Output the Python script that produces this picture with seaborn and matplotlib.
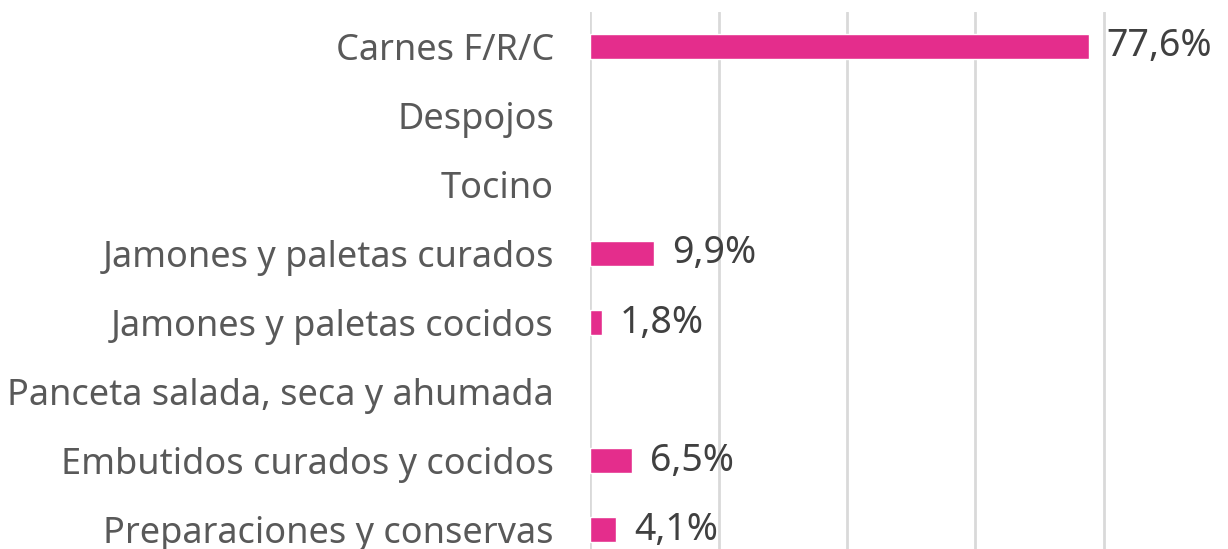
import numpy as np
import pandas as pd
import seaborn as sns
import matplotlib.pyplot as plt

# datos
categorias = ['Carnes F/R/C', 'Despojos', 'Tocino', 'Jamones y paletas curados',
              'Jamones y paletas cocidos', 'Panceta salada, seca y ahumada',
              'Embutidos curados y cocidos', 'Preparaciones y conservas']
valores = [77.6, np.nan, np.nan, 9.9, 1.8, np.nan, 6.5, 4.1]

df = pd.DataFrame({'categoria': categorias, 'valor': valores})

sns.set_theme(style='white')
plt.rcParams['font.family'] = ['Noto Sans', 'DejaVu Sans']

fig = plt.figure(figsize=(12.28, 5.49), dpi=100)
# los ejes se salen por abajo, igual que el recorte original
ax = fig.add_axes([590 / 1228, 1 - 564.5 / 549, 642.5 / 1228, 553 / 549])

sns.barplot(data=df, x='valor', y='categoria', order=categorias, orient='h',
            color='#E42D8C', width=0.36, saturation=1, ax=ax)

ax.set_xlim(0, 100)
ax.set_xticks([0, 20, 40, 60, 80, 100])
ax.xaxis.grid(True, color='#D9D9D9', linewidth=2)
ax.set_axisbelow(True)
for s in ax.spines.values():
    s.set_visible(False)
ax.set_xlabel('')
ax.set_ylabel('')
ax.tick_params(axis='x', bottom=False, labelbottom=False)
ax.tick_params(axis='y', left=False, pad=20, labelsize=26, labelcolor='#595959')

# etiquetas de valor con coma decimal
for i, v in enumerate(valores):
    if np.isnan(v):
        continue
    ax.annotate(f'{v:.1f}%'.replace('.', ','), (v, i), xytext=(13, 0),
                textcoords='offset points', va='center', ha='left',
                fontsize=27, color='#404040')

fig.savefig('out.png', dpi=100)
